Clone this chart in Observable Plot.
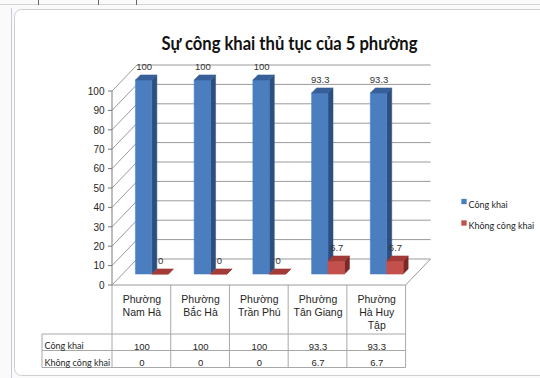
<!DOCTYPE html>
<html>
<head>
<meta charset="utf-8">
<script src="https://cdn.jsdelivr.net/npm/d3@7"></script>
<script src="https://cdn.jsdelivr.net/npm/@observablehq/plot@0.6"></script>
<style>
  body { margin: 0; background: #fff; }
  svg { display: block; }
</style>
</head>
<body>
<div id="chart"></div>
<script>
// ---- data ----
const title = "Sự công khai thủ tục của 5 phường";
const categories = ["Phường\nNam Hà", "Phường\nBắc Hà", "Phường\nTrần Phú", "Phường\nTân Giang", "Phường\nHà Huy\nTập"];
const seriesNames = ["Công khai", "Không công khai"];
const congKhai = [100, 100, 100, 93.3, 93.3];
const khongCongKhai = [0, 0, 0, 6.7, 6.7];
const yTicks = [0, 10, 20, 30, 40, 50, 60, 70, 80, 90, 100];

// ---- styling ----
const palette = [
  {front: "#4A7EBF", top: "#375F98", side: "#2D4F80"},
  {front: "#C4504C", top: "#A23B37", side: "#7C2926"}
];
const gridColor = "#9a9a9a";
const tableColor = "#a8a8a8";
const textColor = "#262626";
const FONT = "'Liberation Sans', Arial, sans-serif";
const FONT_UI = "Lato, 'Open Sans', sans-serif";

// oblique depth of the 3D box (pixels for full depth)
const DEPTH_X = 25, DEPTH_Y = -26;
const BAR_FRONT = 0.42, BAR_BACK = 0.62;   // bar slab within the depth
const BAR_W = 0.28, GROUP_OFFSET = 0.22;   // in category units

// table rows (pixels)
const ROW1 = 334, ROW2 = 350.5, ROW3 = 367.5, TABLE_LEFT = 42;

const series = [congKhai, khongCongKhai];
const bars = categories.flatMap((c, i) => series.map((vals, s) => ({i, s, value: vals[i]})));

function project(x, y) {
  return (xv, yv, t) => [x(xv) + DEPTH_X * t, y(yv) + DEPTH_Y * t];
}

// page frame around the chart object
function frame() {
  const g = d3.create("svg:g");
  g.append("rect").attr("x", 0).attr("y", 0).attr("width", 540).attr("height", 378).attr("fill", "#fafafa");
  g.append("line").attr("x1", 0).attr("x2", 540).attr("y1", 4.5).attr("y2", 4.5).attr("stroke", "#d4d4d4");
  for (const xx of [38.5, 98.5, 136.5]) {
    g.append("line").attr("x1", xx).attr("x2", xx).attr("y1", 0).attr("y2", 5).attr("stroke", "#666");
  }
  g.append("line").attr("x1", 11.5).attr("x2", 11.5).attr("y1", 8).attr("y2", 378).attr("stroke", "#c3cedd");
  g.append("rect").attr("x", 14.5).attr("y", 9.5).attr("width", 540).attr("height", 366)
    .attr("rx", 7).attr("fill", "#fff").attr("stroke", "#cfcfcf");
  return g.node();
}

// side wall, back wall and floor
function walls(index, {x, y}) {
  const P = project(x, y);
  const g = d3.create("svg:g").attr("stroke", gridColor).attr("fill", "none").attr("stroke-width", 1);
  for (const v of yTicks) {
    const [ax, ay] = P(0, v, 0), [bx, by] = P(0, v, 1), [cx, cy] = P(5, v, 1);
    g.append("line").attr("x1", ax).attr("y1", ay).attr("x2", bx).attr("y2", by);
    g.append("line").attr("x1", bx).attr("y1", by).attr("x2", cx).attr("y2", cy);
    g.append("line").attr("x1", ax - 4).attr("y1", ay).attr("x2", ax).attr("y2", ay).attr("stroke", "#777");
  }
  const [a0x, a0y] = P(0, 0, 0), [a1x, a1y] = P(0, 100, 0);
  g.append("line").attr("x1", a0x).attr("y1", a0y).attr("x2", a1x).attr("y2", a1y).attr("stroke", "#7a7a7a");
  const [f0x, f0y] = P(5, 0, 0), [f1x, f1y] = P(5, 0, 1);
  g.append("line").attr("x1", a0x).attr("y1", a0y).attr("x2", f0x).attr("y2", f0y);
  g.append("line").attr("x1", f0x).attr("y1", f0y).attr("x2", f1x).attr("y2", f1y);
  return g.node();
}

// 3D columns: side, front and top faces
function columns(index, {x, y}) {
  const P = project(x, y);
  const g = d3.create("svg:g");
  const path = pts => "M" + pts.map(p => p.join(",")).join("L") + "Z";
  for (const b of bars) {
    const x1 = b.i + GROUP_OFFSET + b.s * BAR_W, x2 = x1 + BAR_W, v = b.value;
    const c = palette[b.s];
    const faces = [
      {fill: c.side, pts: [P(x2, 0, BAR_FRONT), P(x2, 0, BAR_BACK), P(x2, v, BAR_BACK), P(x2, v, BAR_FRONT)]},
      {fill: c.front, pts: [P(x1, 0, BAR_FRONT), P(x2, 0, BAR_FRONT), P(x2, v, BAR_FRONT), P(x1, v, BAR_FRONT)]},
      {fill: c.top, pts: [P(x1, v, BAR_FRONT), P(x2, v, BAR_FRONT), P(x2, v, BAR_BACK), P(x1, v, BAR_BACK)]}
    ];
    for (const f of faces) {
      g.append("path").attr("d", path(f.pts)).attr("fill", f.fill).attr("stroke", f.fill).attr("stroke-width", 0.5);
    }
  }
  return g.node();
}

// data table grid under the plot
function tableGrid(index, {x, y}) {
  const g = d3.create("svg:g").attr("stroke", tableColor).attr("fill", "none");
  const top = y(0), right = x(categories.length);
  categories.forEach((c, i) => {
    g.append("line").attr("x1", x(i)).attr("x2", x(i)).attr("y1", top).attr("y2", ROW3);
  });
  g.append("line").attr("x1", right).attr("x2", right).attr("y1", top).attr("y2", ROW3);
  g.append("line").attr("x1", TABLE_LEFT).attr("x2", TABLE_LEFT).attr("y1", ROW1).attr("y2", ROW3);
  for (const r of [ROW1, ROW2, ROW3]) {
    g.append("line").attr("x1", TABLE_LEFT).attr("x2", right).attr("y1", r).attr("y2", r);
  }
  return g.node();
}

const mid = i => i + GROUP_OFFSET + BAR_W / 2;

const labelMarks = series.map((vals, s) =>
  Plot.text(vals, {
    x: (d, i) => mid(i) + s * BAR_W,
    y: d => d,
    text: d => String(d),
    dx: DEPTH_X * BAR_FRONT,
    dy: DEPTH_Y * BAR_BACK - 8,
    fontSize: 9.5, fontFamily: FONT, fill: "#333"
  })
);

const rowY = [(ROW1 + ROW2) / 2, (ROW2 + ROW3) / 2];
const tableValueMarks = series.map((vals, s) =>
  Plot.text(vals, {
    x: (d, i) => i + 0.5,
    frameAnchor: "top",
    dy: rowY[s],
    text: d => String(d),
    fontSize: 9.5, fontFamily: FONT, fill: textColor
  })
);
const rowHeaderMarks = seriesNames.map((name, s) =>
  Plot.text([name], {
    frameAnchor: "top-left",
    dx: TABLE_LEFT + 2, dy: rowY[s],
    textAnchor: "start",
    fontSize: 9, fontFamily: FONT_UI, fill: textColor
  })
);
const legendMarks = seriesNames.flatMap((name, s) => [
  Plot.dot([name], {
    frameAnchor: "top-left", dx: 463.5, dy: 201 + s * 21.5,
    symbol: "square", r: 3, fill: palette[s].front, stroke: null
  }),
  Plot.text([name], {
    frameAnchor: "top-left", dx: 468, dy: 201 + s * 21.5,
    textAnchor: "start", fontSize: 9, fontFamily: FONT_UI, fill: textColor
  })
]);

const chart = Plot.plot({
  width: 540,
  height: 378,
  margin: 0,
  style: {background: "transparent"},
  x: {domain: [0, categories.length], range: [112, 405.6], axis: null},
  y: {domain: [0, 100], range: [285, 91], axis: null},
  marks: [
    frame,
    walls,
    columns,
    tableGrid,
    Plot.text(yTicks, {x: 0, y: d => d, dx: -8, textAnchor: "end", fontSize: 10, fontFamily: FONT, fill: textColor}),
    ...labelMarks,
    Plot.text(categories, {
      x: (d, i) => i + 0.5, frameAnchor: "top", dy: 293, lineAnchor: "top",
      lineHeight: 1.25, fontSize: 10.5, fontFamily: FONT, fill: textColor
    }),
    ...tableValueMarks,
    ...rowHeaderMarks,
    ...legendMarks,
    Plot.text([title], {
      frameAnchor: "top", dx: 19, dy: 36,
      fontSize: 19, fontWeight: "bold", fontFamily: FONT_UI, fill: "#111"
    })
  ]
});

d3.select(chart).selectAll("text")
  .filter(function() { return this.textContent === title; })
  .attr("textLength", 256).attr("lengthAdjust", "spacingAndGlyphs");

document.getElementById("chart").append(chart);
</script>
</body>
</html>
